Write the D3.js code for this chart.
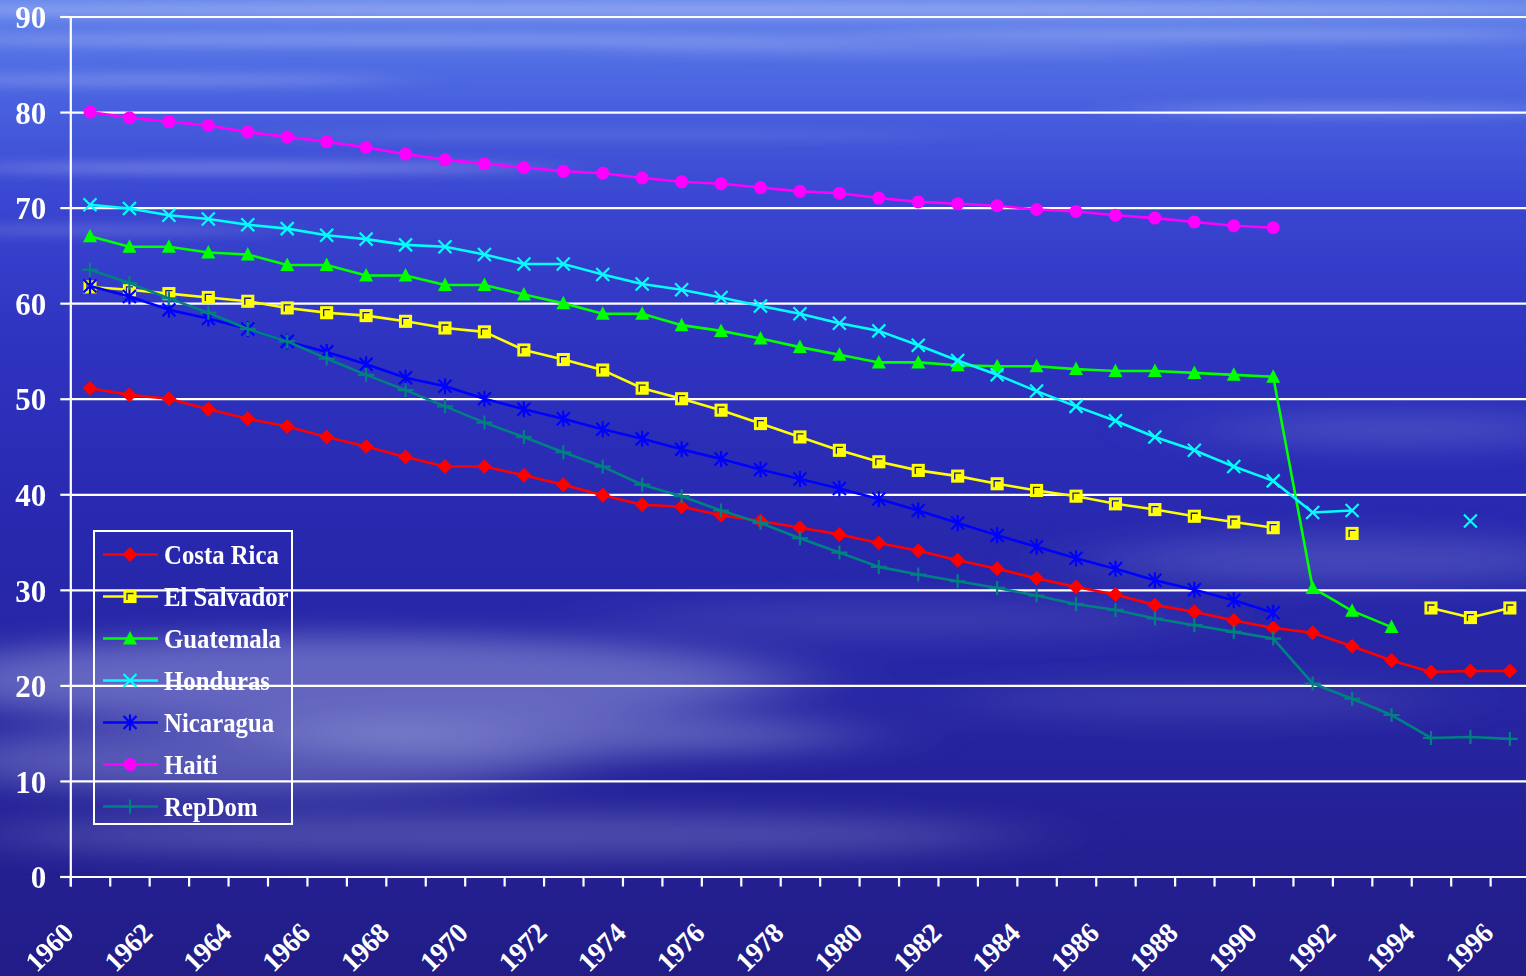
<!DOCTYPE html>
<html>
<head>
<meta charset="utf-8">
<script src="https://cdn.jsdelivr.net/npm/d3@7"></script>
<style>
  html, body { margin: 0; padding: 0; overflow: hidden; background: #2a2ab0; }
  svg { display: block; }
  text { font-family: "Liberation Serif", "Times New Roman", serif; font-weight: bold; fill: #ffffff; }
</style>
</head>
<body>
<svg id="chart" width="1526" height="976"></svg>
<script>
// ---- data -------------------------------------------------------------
const years = [1960,1961,1962,1963,1964,1965,1966,1967,1968,1969,
               1970,1971,1972,1973,1974,1975,1976,1977,1978,1979,
               1980,1981,1982,1983,1984,1985,1986,1987,1988,1989,
               1990,1991,1992,1993,1994,1995,1996];

const yearLabels = [1960,1962,1964,1966,1968,1970,1972,1974,1976,1978,
                    1980,1982,1984,1986,1988,1990,1992,1994,1996];

const yTicks = [0,10,20,30,40,50,60,70,80,90];

const costaRica = [51.1,50.4,50.0,48.9,47.9,47.1,46.0,45.0,43.9,42.9,
                   42.9,42.0,41.0,39.9,38.9,38.7,37.8,37.2,36.5,35.8,
                   34.9,34.1,33.1,32.2,31.2,30.3,29.5,28.4,27.7,26.8,
                   26.0,25.5,24.1,22.6,21.4,21.5,21.5];

const elSalvador = [61.7,61.4,61.0,60.6,60.2,59.5,59.0,58.7,58.1,57.4,
                    57.0,55.1,54.1,53.0,51.1,50.0,48.8,47.4,46.0,44.6,
                    43.4,42.5,41.9,41.1,40.4,39.8,39.0,38.4,37.7,37.1,
                    36.5,null,35.9,null,28.1,27.1,28.1];

const guatemala = [67.0,65.9,65.9,65.3,65.1,64.0,64.0,62.9,62.9,61.9,
                   61.9,60.9,60.0,58.9,58.9,57.7,57.1,56.3,55.4,54.6,
                   53.8,53.8,53.5,53.4,53.4,53.1,52.9,52.9,52.7,52.5,
                   52.3,30.2,27.8,26.1,null,null,null];

const honduras = [70.3,69.9,69.2,68.8,68.2,67.8,67.1,66.7,66.1,65.9,
                  65.1,64.1,64.1,63.0,62.0,61.4,60.6,59.7,58.9,57.9,
                  57.1,55.6,54.0,52.5,50.8,49.2,47.7,46.0,44.6,42.9,
                  41.4,38.1,38.3,null,null,37.2,null];

const nicaragua = [61.8,60.7,59.3,58.4,57.3,56.0,54.9,53.6,52.2,51.3,
                   50.0,48.9,47.9,46.8,45.8,44.7,43.7,42.6,41.6,40.6,
                   39.5,38.3,37.0,35.7,34.5,33.3,32.2,31.0,30.0,28.9,
                   27.6,null,null,null,null,null,null];

const haiti = [80.0,79.4,79.0,78.6,77.9,77.4,76.9,76.3,75.6,75.0,
               74.6,74.2,73.8,73.6,73.1,72.7,72.5,72.1,71.7,71.5,
               71.0,70.6,70.4,70.2,69.8,69.6,69.2,68.9,68.5,68.1,
               67.9,null,null,null,null,null,null];

const repDom = [63.5,62.1,60.5,59.0,57.3,56.0,54.2,52.5,50.9,49.2,
                47.5,46.0,44.4,42.9,41.0,39.8,38.3,37.0,35.4,33.9,
                32.4,31.6,30.9,30.2,29.4,28.5,27.9,27.0,26.3,25.6,
                24.9,20.2,18.6,16.9,14.5,14.6,14.4];

const series = [
  { name: "Costa Rica",  values: costaRica,  color: "#ff0000", marker: "diamond"  },
  { name: "El Salvador", values: elSalvador, color: "#ffff00", marker: "square"   },
  { name: "Guatemala",   values: guatemala,  color: "#00ff00", marker: "triangle" },
  { name: "Honduras",    values: honduras,   color: "#00ffff", marker: "times"    },
  { name: "Nicaragua",   values: nicaragua,  color: "#0000ff", marker: "asterisk" },
  { name: "Haiti",       values: haiti,      color: "#ff00ff", marker: "circle"   },
  { name: "RepDom",      values: repDom,     color: "#008080", marker: "plus"     }
];

// ---- layout -----------------------------------------------------------
const W = 1526, H = 976;
const plot = { left: 70.3, right: 70.3 + 37 * 39.44, top: 16.5, bottom: 876.5 };

const svg = d3.select("#chart");
const defs = svg.append("defs");

// sky background
const bg = defs.append("linearGradient").attr("id", "sky")
  .attr("x1", 0).attr("y1", 0).attr("x2", 0).attr("y2", 1);
[[0, "#6283ea"], [0.08, "#4d68e2"], [0.2, "#3a47d2"], [0.35, "#2e33c0"],
 [0.55, "#2828ae"], [0.75, "#2624a0"], [1, "#211c86"]]
  .forEach(([o, c]) => bg.append("stop").attr("offset", o).attr("stop-color", c));

const soft = defs.append("filter").attr("id", "soft")
  .attr("x", "-50%").attr("y", "-50%").attr("width", "200%").attr("height", "200%");
soft.append("feGaussianBlur").attr("stdDeviation", "40 6");

const softer = defs.append("filter").attr("id", "softer")
  .attr("x", "-50%").attr("y", "-50%").attr("width", "200%").attr("height", "200%");
softer.append("feGaussianBlur").attr("stdDeviation", "60 14");

svg.append("rect").attr("width", W).attr("height", H).attr("fill", "url(#sky)");

// cloud streaks: [cx, cy, rx, ry, opacity]
const haze = [
  [350, 680, 440, 45, 0.38], [250, 760, 320, 35, 0.3], [560, 735, 300, 20, 0.35],
  [500, 835, 520, 22, 0.25], [1350, 560, 260, 25, 0.18], [1400, 430, 200, 15, 0.2],
  [900, 620, 300, 20, 0.12], [1200, 700, 250, 20, 0.12]
];
const streaks = [
  [700, 10, 900, 8, 0.35], [400, 40, 500, 6, 0.3], [1200, 35, 350, 6, 0.3],
  [150, 80, 250, 5, 0.3], [1350, 110, 220, 6, 0.25], [250, 168, 300, 5, 0.35],
  [100, 230, 180, 4, 0.25], [900, 50, 300, 4, 0.2], [600, 135, 350, 4, 0.15]
];
svg.append("g").attr("filter", "url(#softer)").selectAll("ellipse").data(haze).join("ellipse")
  .attr("cx", d => d[0]).attr("cy", d => d[1]).attr("rx", d => d[2]).attr("ry", d => d[3])
  .attr("fill", "#c8d0f0").attr("opacity", d => d[4]);
svg.append("g").attr("filter", "url(#soft)").selectAll("ellipse").data(streaks).join("ellipse")
  .attr("cx", d => d[0]).attr("cy", d => d[1]).attr("rx", d => d[2]).attr("ry", d => d[3])
  .attr("fill", "#dfe6ff").attr("opacity", d => d[4]);

// ---- scales -----------------------------------------------------------
const x = d3.scaleBand().domain(years).range([plot.left, plot.right]);
const cx = yr => x(yr) + x.bandwidth() / 2;
const y = d3.scaleLinear().domain([0, 90]).range([plot.bottom, plot.top]);
const slot = d3.scaleLinear().domain([0, years.length]).range([plot.left, plot.right]);

// ---- grid & axes ------------------------------------------------------
const grid = svg.append("g").attr("transform", `translate(${plot.left},0)`)
  .call(d3.axisLeft(y).tickValues(yTicks).tickSize(-(plot.right - plot.left)).tickFormat(""));
grid.select(".domain").remove();
grid.selectAll("line").attr("stroke", "#ffffff").attr("stroke-width", 2.2);

const yAxis = svg.append("g").attr("transform", `translate(${plot.left},0)`)
  .call(d3.axisLeft(y).tickValues(yTicks).tickSize(10).tickPadding(14).tickFormat(d3.format("d")));
yAxis.select(".domain").attr("stroke", "#ffffff").attr("stroke-width", 2.2);
yAxis.selectAll("line").attr("stroke", "#ffffff").attr("stroke-width", 2.2);
yAxis.selectAll("text").attr("font-size", 31).attr("fill", "#ffffff")
  .attr("font-family", "'Liberation Serif', 'Times New Roman', serif").attr("font-weight", "bold")
  .attr("dy", "0.36em");

const xAxis = svg.append("g").attr("transform", `translate(0,${plot.bottom})`)
  .call(d3.axisBottom(slot).tickValues(d3.range(0, years.length + 1)).tickSize(10).tickFormat(""));
xAxis.select(".domain").attr("stroke", "#ffffff").attr("stroke-width", 2.2);
xAxis.selectAll("line").attr("stroke", "#ffffff").attr("stroke-width", 2.2);

svg.append("g").selectAll("text").data(yearLabels).join("text")
  .attr("transform", d => `translate(${cx(d) - 15},935) rotate(-45)`)
  .attr("text-anchor", "end")
  .attr("font-size", 28)
  .attr("letter-spacing", -0.5)
  .text(d => d);

// ---- markers ----------------------------------------------------------
function drawMarker(g, type, color) {
  switch (type) {
    case "diamond":
      g.append("path").attr("d", "M0,-7.5L7.5,0L0,7.5L-7.5,0Z").attr("fill", color);
      break;
    case "square":
      g.append("rect").attr("x", -5.8).attr("y", -5.8).attr("width", 11.6).attr("height", 11.6)
        .attr("fill", color).attr("stroke", color).attr("stroke-width", 1.5);
      g.append("path").attr("d", "M-3,3.5V-3H3.5").attr("fill", "none")
        .attr("stroke", "#1d1f7a").attr("stroke-width", 1.3);
      break;
    case "triangle":
      g.append("path").attr("d", "M0,-7.5L7,6L-7,6Z").attr("fill", color);
      break;
    case "times":
      g.append("path").attr("d", "M-6.5,-6.5L6.5,6.5M-6.5,6.5L6.5,-6.5")
        .attr("stroke", color).attr("stroke-width", 2.2).attr("fill", "none");
      break;
    case "asterisk":
      g.append("path").attr("d", "M-6.5,-6.5L6.5,6.5M-6.5,6.5L6.5,-6.5M0,-8V8")
        .attr("stroke", color).attr("stroke-width", 2.2).attr("fill", "none");
      break;
    case "circle":
      g.append("circle").attr("r", 6.5).attr("fill", color);
      break;
    case "plus":
      g.append("path").attr("d", "M-8,0H8M0,-7V7")
        .attr("stroke", color).attr("stroke-width", 2.2).attr("fill", "none");
      break;
  }
}

// ---- series -----------------------------------------------------------
const line = d3.line()
  .defined(d => d.v != null)
  .x(d => cx(d.year))
  .y(d => y(d.v));

series.forEach(s => {
  const pts = years.map((yr, i) => ({ year: yr, v: s.values[i] }));
  const g = svg.append("g").attr("class", "series");
  g.append("path").datum(pts).attr("d", line)
    .attr("fill", "none").attr("stroke", s.color).attr("stroke-width", 2.6)
    .attr("stroke-linejoin", "round");
  g.selectAll("g.pt").data(pts.filter(d => d.v != null)).join("g")
    .attr("class", "pt")
    .attr("transform", d => `translate(${cx(d.year)},${y(d.v)})`)
    .each(function () { drawMarker(d3.select(this), s.marker, s.color); });
});

// ---- legend -----------------------------------------------------------
const legend = svg.append("g").attr("transform", "translate(94,531)");
legend.append("rect").attr("width", 198).attr("height", 293)
  .attr("fill", "none").attr("stroke", "#ffffff").attr("stroke-width", 2);
series.forEach((s, i) => {
  const row = legend.append("g").attr("transform", `translate(0,${23.5 + i * 42})`);
  row.append("line").attr("x1", 9).attr("x2", 64).attr("y1", 0).attr("y2", 0)
    .attr("stroke", s.color).attr("stroke-width", 2.6);
  drawMarker(row.append("g").attr("transform", "translate(36,0)"), s.marker, s.color);
  row.append("text").attr("transform", "translate(70,9.5) scale(0.885,1)")
    .attr("font-size", 28).text(s.name);
});
</script>
</body>
</html>
